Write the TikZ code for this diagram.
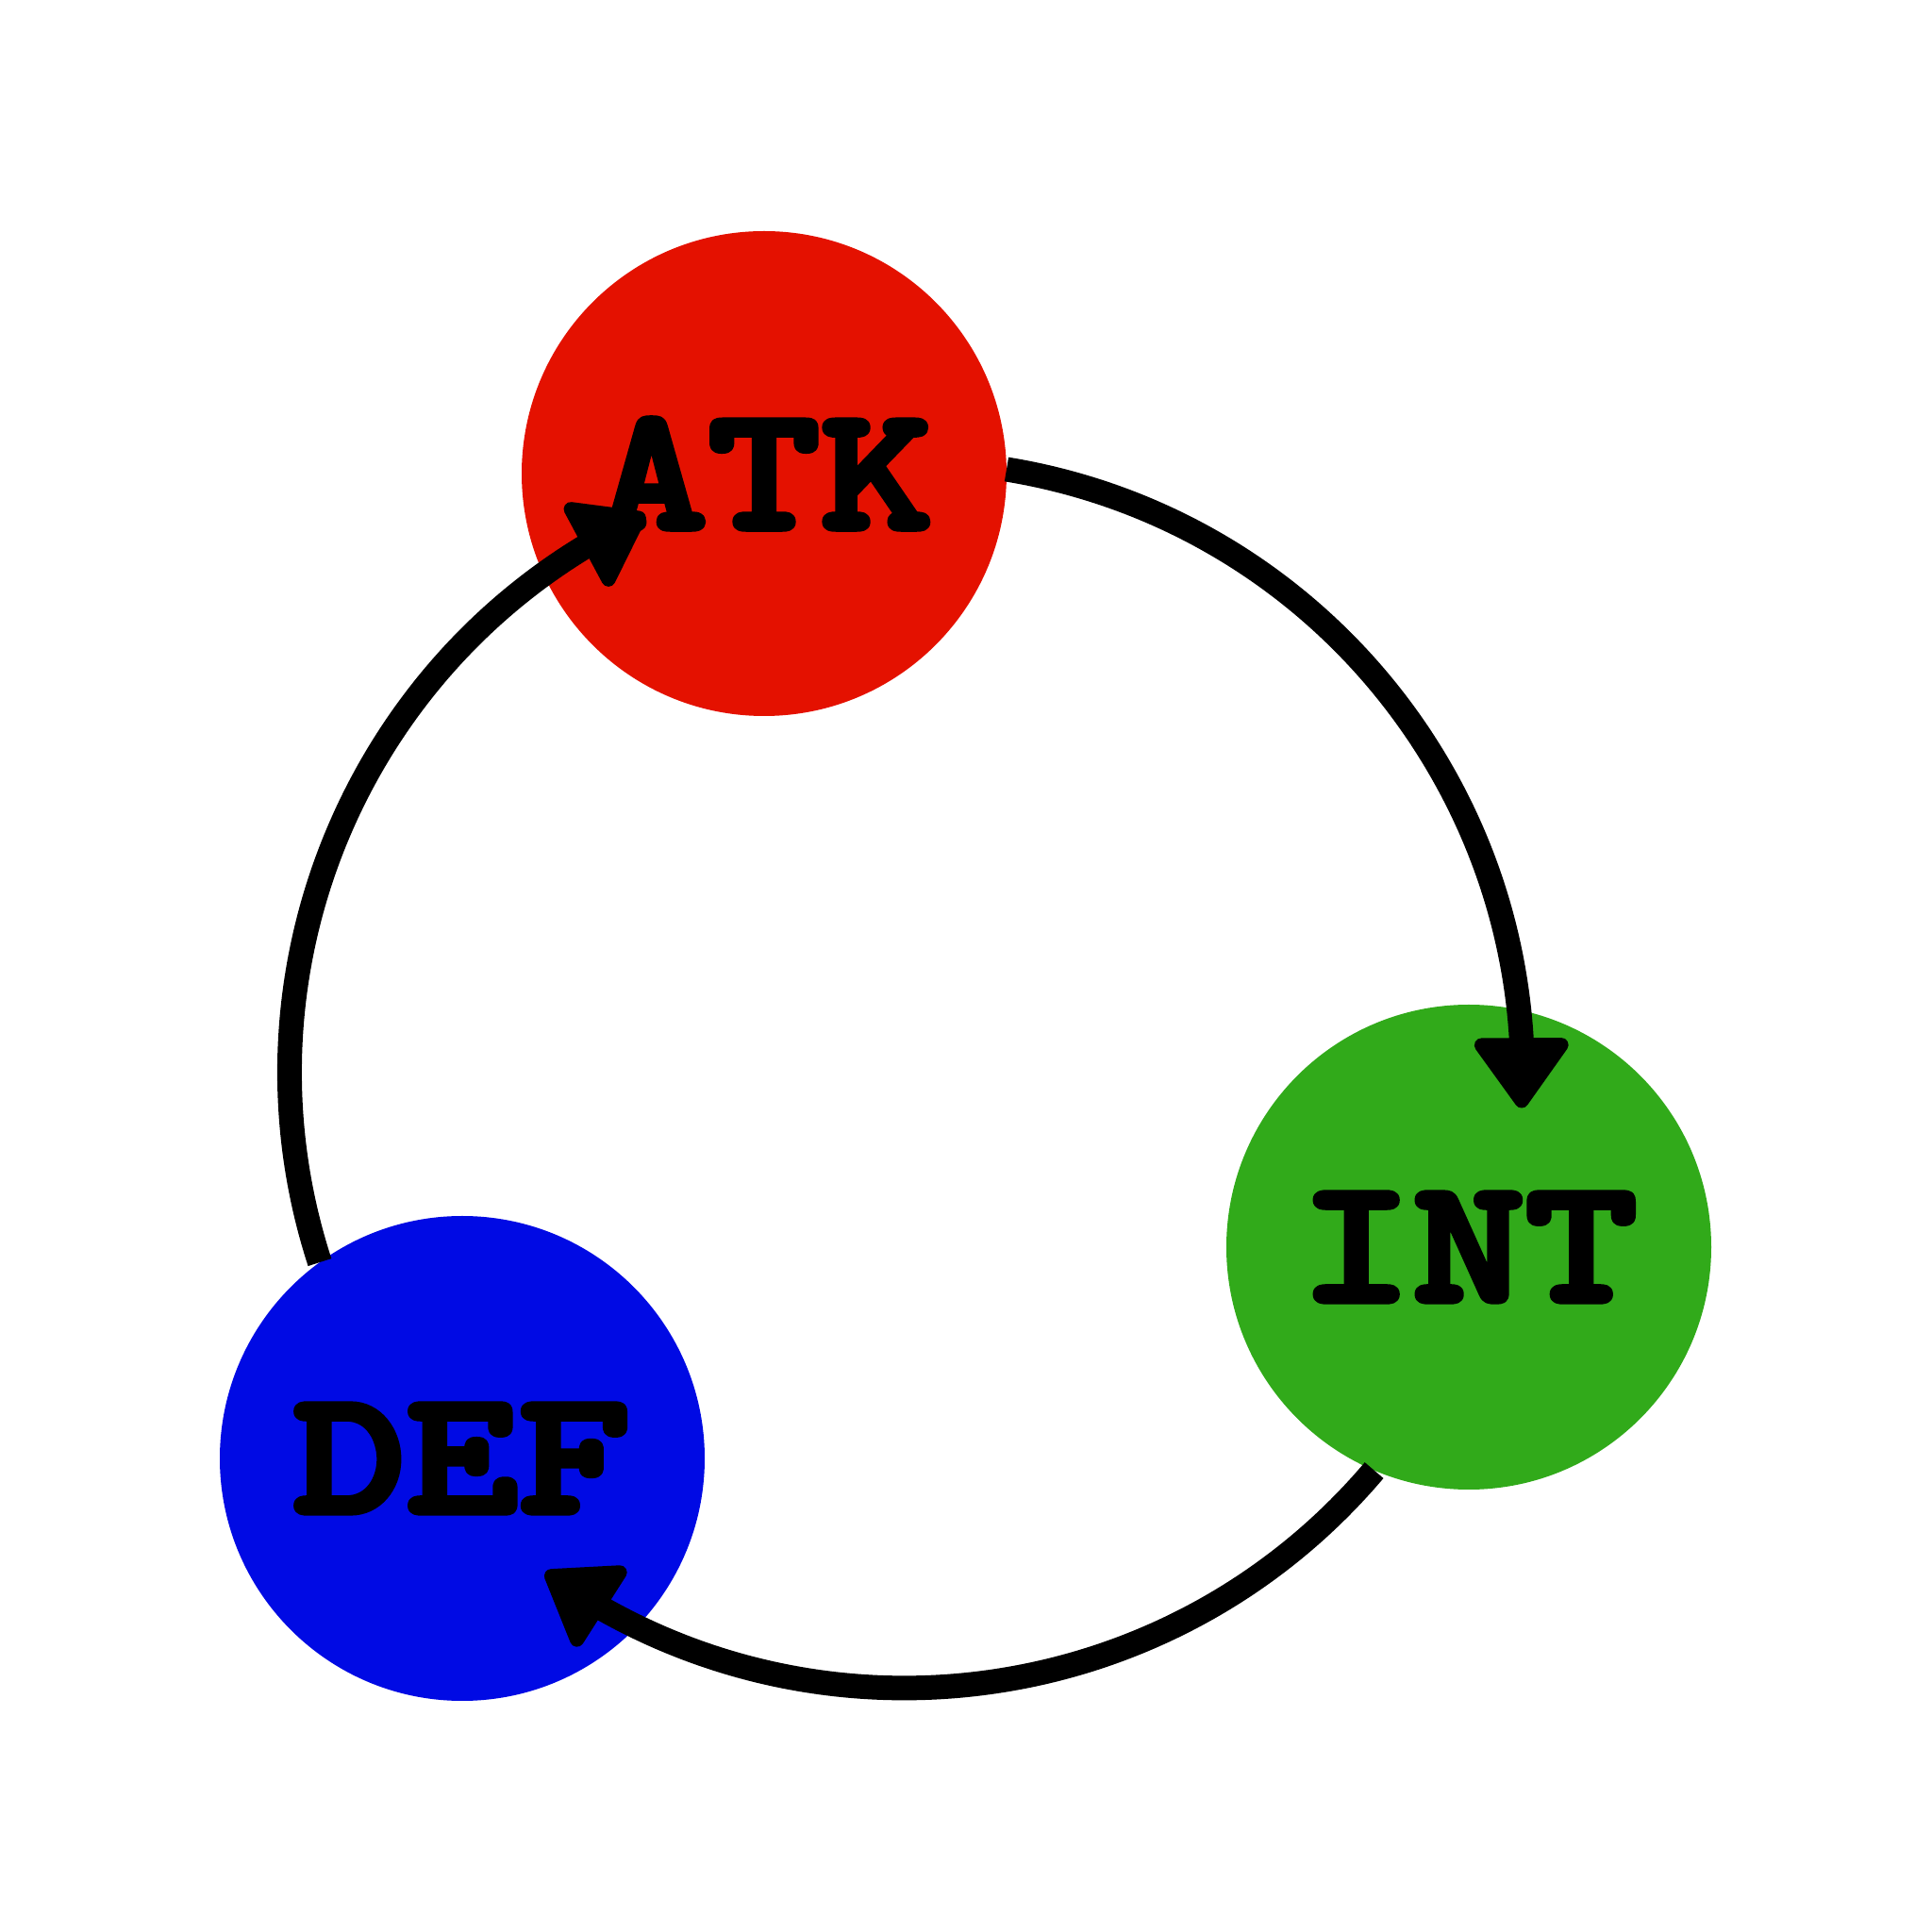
\documentclass[tikz,border=0pt]{standalone}
\usepackage{fontspec}
\usetikzlibrary{arrows.meta,bending}
\newfontfamily\heavytt[FakeStretch=1.22, FakeBold=4]{lmmonolt10-bold.otf}
\definecolor{atkred}{RGB}{228,17,0}
\definecolor{intgreen}{RGB}{49,170,26}
\definecolor{defblue}{RGB}{0,10,228}
\tikzset{
  ball/.style={circle, minimum size=5.14cm, inner sep=0pt, outer sep=0pt,
    line join=round, font=\fontsize{53}{60}\selectfont\heavytt},
  conn/.style={line width=0.26cm,
    -{Triangle[length=0.80cm, width=1.10cm, round, line width=0.15cm]}},
}
\begin{document}
\begin{tikzpicture}
\useasboundingbox (0,0) rectangle (20.48,20.48);
\node[ball, fill=atkred] (ATK) at (8.10,15.46) {ATK};
\node[ball, fill=intgreen] (INT) at (15.57,7.26) {INT};
\node[ball, fill=defblue] (DEF) at (4.90,5.02) {DEF};
\draw[conn] (ATK.1.7) arc[start angle=80.73, end angle=-2.95, radius=6.52];
\draw[conn] (INT.247) arc[start angle=-40.24, end angle=-125.74, radius=6.52];
\draw[conn] (DEF.126.4) arc[start angle=198, end angle=114.96, radius=6.52];
\end{tikzpicture}
\end{document}
